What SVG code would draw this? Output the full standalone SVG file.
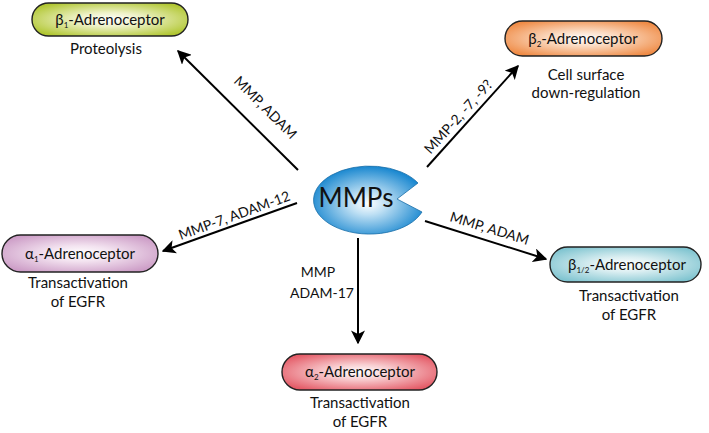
<svg xmlns="http://www.w3.org/2000/svg" width="709" height="433" viewBox="0 0 709 433">
<defs>
<radialGradient id="gB1" cx="50%" cy="50%" r="60%"><stop offset="0" stop-color="#ffffff"/><stop offset="0.35" stop-color="#eef2c8"/><stop offset="1" stop-color="#b0c630"/></radialGradient>
<radialGradient id="gB2" cx="50%" cy="50%" r="60%"><stop offset="0" stop-color="#ffffff"/><stop offset="0.35" stop-color="#fbdcc4"/><stop offset="1" stop-color="#ef8a44"/></radialGradient>
<radialGradient id="gA1" cx="50%" cy="50%" r="60%"><stop offset="0" stop-color="#ffffff"/><stop offset="0.35" stop-color="#f3e3f0"/><stop offset="1" stop-color="#cc9cc6"/></radialGradient>
<radialGradient id="gB12" cx="50%" cy="50%" r="60%"><stop offset="0" stop-color="#ffffff"/><stop offset="0.35" stop-color="#dceff2"/><stop offset="1" stop-color="#7fc4d0"/></radialGradient>
<radialGradient id="gA2" cx="50%" cy="50%" r="60%"><stop offset="0" stop-color="#ffffff"/><stop offset="0.35" stop-color="#f8cdd0"/><stop offset="1" stop-color="#e45a66"/></radialGradient>
<radialGradient id="gM" cx="50%" cy="55%" r="55%"><stop offset="0" stop-color="#ffffff"/><stop offset="0.3" stop-color="#bfe0f4"/><stop offset="1" stop-color="#1786cf"/></radialGradient>
<marker id="ah" viewBox="0 0 10 10" refX="9" refY="5" markerWidth="14" markerHeight="14" markerUnits="userSpaceOnUse" orient="auto"><path d="M0,0 L10,5 L0,10 L2.5,5 Z" fill="#000"/></marker>
</defs>
<style>
.pill{stroke:#222;stroke-width:1.4}
text{font-family:Lato,"Open Sans","Liberation Sans",sans-serif;fill:#111}
.nl{font-size:15px;text-anchor:middle}
.sub{font-size:15px;text-anchor:middle}
.el{font-size:14px;text-anchor:middle}
.s{font-size:8px}
.conn line{stroke:#000;stroke-width:2;marker-end:url(#ah)}
</style>
<g id="mmps">
<path d="M418,183 A56,34 0 1 0 422,212 L397,199 Z" fill="url(#gM)" stroke="#1a6fa8" stroke-width="0.8"/>
<text x="356" y="207" style="font-size:26px" text-anchor="middle">MMPs</text>
</g>
<g id="beta1">
<rect class="pill" x="32" y="3" width="156" height="33" rx="16.5" fill="url(#gB1)"/>
<text class="nl" x="110" y="25">β<tspan class="s" dy="3">1</tspan><tspan dy="-3">-Adrenoceptor</tspan></text>
<text class="sub" x="106" y="54">Proteolysis</text>
</g>
<g id="beta2">
<rect class="pill" x="505" y="21" width="157" height="35" rx="17.5" fill="url(#gB2)"/>
<text class="nl" x="583" y="44">β<tspan class="s" dy="3">2</tspan><tspan dy="-3">-Adrenoceptor</tspan></text>
<text class="sub" x="586" y="80">Cell surface</text>
<text class="sub" x="586" y="98">down-regulation</text>
</g>
<g id="alpha1">
<rect class="pill" x="2" y="235" width="156" height="37" rx="18.5" fill="url(#gA1)"/>
<text class="nl" x="80" y="259">α<tspan class="s" dy="3">1</tspan><tspan dy="-3">-Adrenoceptor</tspan></text>
<text class="sub" x="78" y="288">Transactivation</text>
<text class="sub" x="78" y="307">of EGFR</text>
</g>
<g id="beta12">
<rect class="pill" x="550" y="247" width="151" height="35" rx="17.5" fill="url(#gB12)"/>
<text class="nl" x="627" y="270">β<tspan class="s" dy="3">1/2</tspan><tspan dy="-3">-Adrenoceptor</tspan></text>
<text class="sub" x="629" y="301">Transactivation</text>
<text class="sub" x="629" y="320">of EGFR</text>
</g>
<g id="alpha2">
<rect class="pill" x="282" y="354" width="155" height="36" rx="18" fill="url(#gA2)"/>
<text class="nl" x="360" y="377">α<tspan class="s" dy="3">2</tspan><tspan dy="-3">-Adrenoceptor</tspan></text>
<text class="sub" x="360" y="408">Transactivation</text>
<text class="sub" x="360" y="427">of EGFR</text>
</g>
<g class="conn" id="connectors">
<line x1="298" y1="170" x2="178" y2="51"/>
<line x1="427" y1="167" x2="518" y2="66"/>
<line x1="297" y1="203" x2="163" y2="251"/>
<line x1="358" y1="238" x2="358" y2="343"/>
<line x1="425" y1="221" x2="546" y2="259"/>
<text class="el" transform="translate(262,111) rotate(45)">MMP, ADAM</text>
<text class="el" transform="translate(462,120) rotate(-48)">MMP-2, -7, -9?</text>
<text class="el" transform="translate(236,220) rotate(-20)">MMP-7, ADAM-12</text>
<text class="el" x="318" y="277">MMP</text>
<text class="el" x="322" y="298">ADAM-17</text>
<text class="el" transform="translate(488,233) rotate(17)">MMP, ADAM</text>
</g>
</svg>
